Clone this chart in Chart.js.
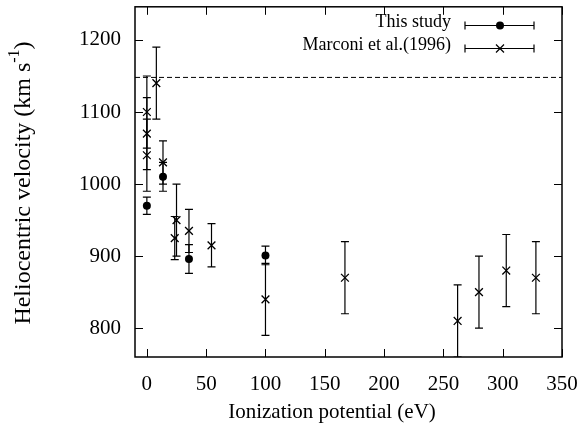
<!DOCTYPE html>
<html>
<head>
<meta charset="utf-8">
<script src="https://cdn.jsdelivr.net/npm/chart.js@4"></script>
<style>
  html, body { margin: 0; padding: 0; background: #fff; }
  #wrap { width: 587px; height: 429px; }
</style>
</head>
<body>
<div id="wrap"><canvas id="chart"></canvas></div>
<script>
// Data
const xTicks = [0, 50, 100, 150, 200, 250, 300, 350];
const yTicks = [800, 900, 1000, 1100, 1200];

const studyX = [0, 13.6, 35.5, 100];
const studyY = [970, 1010, 896, 901];
const studyErr = [12, 20, 20, 13];

const marconiX = [0, 0, 0, 8, 13.6, 23.5, 25, 35.5, 54.5, 100, 167, 262, 280, 303, 328];
const marconiY = [1100, 1070, 1040, 1140, 1030, 925, 950, 935, 915, 840, 870, 810, 850, 880, 870];
const marconiErr = [50, 50, 50, 50, 30, 30, 50, 30, 30, 50, 50, 50, 50, 50, 50];

const refLineY = 1148;
const xRange = [-10, 350];
const yRange = [760, 1246];

const labels = ['This study', 'Marconi et al.(1996)'];
const xTitle = 'Ionization potential (eV)';
const yTitle = 'Heliocentric velocity (km s';

const FONT = '"Liberation Serif", "Times New Roman", serif';

const toPoints = (xs, ys) => xs.map((x, i) => ({ x, y: ys[i] }));

// vertical error bars, drawn through the chart scales
const errorBars = {
    id: 'errorBars',
    afterDatasetsDraw(chart) {
        const { ctx, chartArea: a, scales: { x, y } } = chart;
        ctx.save();
        ctx.beginPath();
        ctx.rect(a.left, a.top, a.right - a.left, a.bottom - a.top);
        ctx.clip();
        ctx.strokeStyle = '#000';
        ctx.lineWidth = 1.2;
        chart.data.datasets.forEach(ds => {
            if (!ds.errs) return;
            ds.data.forEach((p, i) => {
                const px = x.getPixelForValue(p.x);
                const top = y.getPixelForValue(p.y + ds.errs[i]);
                const bot = y.getPixelForValue(p.y - ds.errs[i]);
                ctx.beginPath();
                ctx.moveTo(px, top); ctx.lineTo(px, bot);
                ctx.moveTo(px - 4, top); ctx.lineTo(px + 4, top);
                ctx.moveTo(px - 4, bot); ctx.lineTo(px + 4, bot);
                ctx.stroke();
            });
        });
        ctx.restore();
    }
};

// gnuplot-like frame, inner ticks, titles and key
const frame = {
    id: 'frame',
    afterDraw(chart) {
        const { ctx, chartArea: a, scales: { x, y } } = chart;
        ctx.save();
        ctx.strokeStyle = '#000';
        ctx.fillStyle = '#000';
        ctx.lineWidth = 1;
        ctx.beginPath();
        x.ticks.forEach(t => {
            const px = Math.round(x.getPixelForValue(t.value)) + 0.5;
            ctx.moveTo(px, a.bottom); ctx.lineTo(px, a.bottom - 8);
            ctx.moveTo(px, a.top); ctx.lineTo(px, a.top + 8);
        });
        y.ticks.forEach(t => {
            const py = Math.round(y.getPixelForValue(t.value)) + 0.5;
            ctx.moveTo(a.left, py); ctx.lineTo(a.left + 8, py);
            ctx.moveTo(a.right, py); ctx.lineTo(a.right - 8, py);
        });
        ctx.stroke();
        ctx.lineWidth = 1.5;
        ctx.strokeRect(a.left, a.top, a.right - a.left, a.bottom - a.top);

        // x title
        ctx.font = '21px ' + FONT;
        ctx.textAlign = 'center';
        ctx.textBaseline = 'middle';
        ctx.fillText(xTitle, 332, 412);

        // y title with superscript
        ctx.save();
        ctx.translate(24, 183);
        ctx.rotate(-Math.PI / 2);
        ctx.textAlign = 'left';
        const big = '24px ' + FONT;
        const small = '16px ' + FONT;
        ctx.font = big;
        const w1 = ctx.measureText(yTitle).width;
        ctx.font = small;
        const w2 = ctx.measureText('-1').width;
        ctx.font = big;
        const w3 = ctx.measureText(')').width;
        let sx = -(w1 + w2 + w3) / 2;
        ctx.fillText(yTitle, sx, 0);
        sx += w1;
        ctx.font = small;
        ctx.fillText('-1', sx, -9);
        sx += w2;
        ctx.font = big;
        ctx.fillText(')', sx, 0);
        ctx.restore();

        // key
        ctx.font = '18px ' + FONT;
        ctx.textAlign = 'right';
        ctx.lineWidth = 1.2;
        const rows = [25, 48];
        chart.data.datasets.slice(0, 2).forEach((ds, i) => {
            const ry = rows[i] + 0.5;
            ctx.fillText(labels[i], 451, ry - 3);
            ctx.beginPath();
            ctx.moveTo(465, ry); ctx.lineTo(534, ry);
            ctx.moveTo(465, ry - 4); ctx.lineTo(465, ry + 4);
            ctx.moveTo(534, ry - 4); ctx.lineTo(534, ry + 4);
            ctx.stroke();
            if (ds.pointStyle === 'circle') {
                ctx.beginPath();
                ctx.arc(500, ry, 4, 0, Math.PI * 2);
                ctx.fill();
            } else {
                ctx.beginPath();
                ctx.moveTo(496, ry - 4); ctx.lineTo(504, ry + 4);
                ctx.moveTo(496, ry + 4); ctx.lineTo(504, ry - 4);
                ctx.stroke();
            }
        });
        ctx.restore();
    }
};

new Chart(document.getElementById('chart'), {
    type: 'scatter',
    data: {
        datasets: [
            {
                label: labels[0],
                data: toPoints(studyX, studyY),
                errs: studyErr,
                pointStyle: 'circle',
                pointRadius: 4,
                backgroundColor: '#000',
                borderColor: '#000',
                borderWidth: 0
            },
            {
                label: labels[1],
                data: toPoints(marconiX, marconiY),
                errs: marconiErr,
                pointStyle: 'crossRot',
                pointRadius: 5.5,
                borderColor: '#000',
                borderWidth: 1.3
            },
            {
                label: 'ref',
                type: 'line',
                data: [{ x: xRange[0], y: refLineY }, { x: xRange[1], y: refLineY }],
                borderColor: '#000',
                borderWidth: 1,
                borderDash: [5, 3],
                pointRadius: 0
            }
        ]
    },
    options: {
        responsive: true,
        maintainAspectRatio: false,
        animation: false,
        layout: { padding: { left: 0, top: 0, right: 25, bottom: 0 } },
        plugins: {
            legend: { display: false },
            tooltip: { enabled: false }
        },
        scales: {
            x: {
                type: 'linear',
                min: xRange[0],
                max: xRange[1],
                afterBuildTicks: s => { s.ticks = xTicks.map(v => ({ value: v })); },
                afterFit: s => { s.height = 72; s.paddingLeft = 0; s.paddingRight = 0; },
                grid: { display: false, drawTicks: false },
                border: { display: false },
                ticks: { color: '#000', padding: 15, callback: v => String(v), font: { family: FONT, size: 21 } }
            },
            y: {
                type: 'linear',
                min: yRange[0],
                max: yRange[1],
                afterBuildTicks: s => { s.ticks = yTicks.map(v => ({ value: v })); },
                afterFit: s => { s.width = 135; s.paddingTop = 0; s.paddingBottom = 0; },
                grid: { display: false, drawTicks: false },
                border: { display: false },
                ticks: { color: '#000', padding: 14, callback: v => String(v), font: { family: FONT, size: 21 } }
            }
        }
    },
    plugins: [errorBars, frame]
});
</script>
</body>
</html>
